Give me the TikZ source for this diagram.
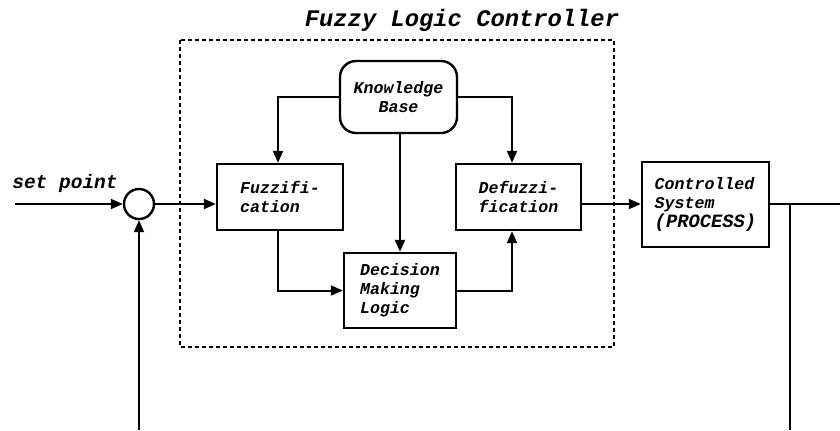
\documentclass[tikz,border=0pt]{standalone}
\usepackage{fontspec}
\newfontfamily\cour{Liberation Mono}
\usetikzlibrary{arrows.meta}
\begin{document}
\begin{tikzpicture}[x=0.5pt,y=-0.5pt,
  blk/.style={draw,line width=1.2pt,rectangle,inner sep=0pt,font=\cour\bfseries\itshape\fontsize{8.3}{9.5}\selectfont,align=left},
  conn/.style={line width=1pt},
  arr/.style={conn,-{Triangle[length=6pt,width=5pt]}}]
\useasboundingbox (0,0) rectangle (840,430);
% controller frame
\draw[line width=1pt,dash pattern=on 2pt off 1.5pt] (180,40) rectangle (614,347);
\node[font=\cour\bfseries\itshape\fontsize{11.9}{13}\selectfont] (title) at (462,20) {Fuzzy Logic Controller};
% blocks
\node[blk,rounded corners=8pt,minimum width=58.5pt,minimum height=36pt,align=center] (kb) at (398.5,97) {Knowledge\\Base};
\node[blk,minimum width=63pt,minimum height=33pt] (fuz) at (280,197) {Fuzzifi-\\cation};
\node[blk,minimum width=62.5pt,minimum height=33pt] (def) at (518.5,197) {Defuzzi-\\fication};
\node[blk,minimum width=56pt,minimum height=37.5pt] (dml) at (400,290.5) {Decision\\Making\\Logic};
\node[blk,minimum width=63.5pt,minimum height=42.5pt] (cs) at (705.5,204.5) {Controlled\\System\\{\fontsize{9.4}{9.5}\selectfont(PROCESS)}};
\node[draw,circle,line width=1.2pt,minimum size=15pt,inner sep=0pt] (sum) at (139,204) {};
% coordinates
\coordinate (sp) at (15,204);
\coordinate (out) at (840,204);
\coordinate (fbr) at (790,204);
\coordinate (fbrb) at (790,430);
\coordinate (fblb) at (139,430);
\node[font=\cour\bfseries\itshape\fontsize{9.75}{11}\selectfont,inner sep=0pt] (splabel) at (65,183) {set point};
% connectors
\draw[arr] (sp) -- (sum.west);
\draw[arr] (sum.east) -- (sum.east -| fuz.west);
\draw[arr] (def.east |- sum.east) -- (cs.west |- sum.east);
\draw[conn] (cs.east |- sum.east) -- (out);
\draw[conn] (fbr) -- (fbrb);
\draw[arr] (fblb) -- (sum.south);
\draw[arr] (kb.west) -| ([xshift=-1pt]fuz.north);
\draw[arr] (kb.east) -| ([xshift=-3.25pt]def.north);
\draw[arr] (kb.south -| dml.north) -- (dml.north);
\draw[arr] ([xshift=-1pt]fuz.south) |- (dml.west);
\draw[arr] (dml.east) -| ([xshift=-3.25pt]def.south);
\end{tikzpicture}
\end{document}
